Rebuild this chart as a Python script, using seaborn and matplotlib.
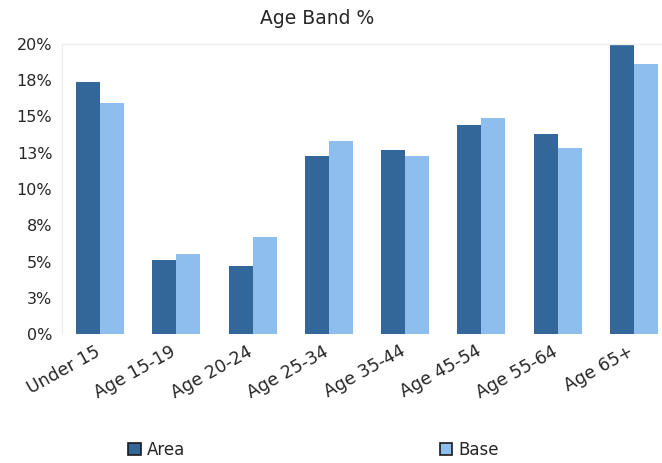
import matplotlib
matplotlib.use("Agg")
import matplotlib.pyplot as plt
import matplotlib.transforms as mtransforms
import seaborn as sns
import pandas as pd
from matplotlib.patches import Patch

# Age bands and percentage shares for the local area versus the base population
categories = ["Under 15", "Age 15-19", "Age 20-24", "Age 25-34",
              "Age 35-44", "Age 45-54", "Age 55-64", "Age 65+"]
area_pct = [17.4, 5.1, 4.7, 12.3, 12.7, 14.4, 13.8, 19.9]
base_pct = [15.9, 5.5, 6.7, 13.3, 12.3, 14.9, 12.8, 18.6]
series_names = ["Area", "Base"]
ytick_values = [0, 2.5, 5, 7.5, 10, 12.5, 15, 17.5, 20]
ytick_labels = ["0%", "3%", "5%", "8%", "10%", "13%", "15%", "18%", "20%"]

df = pd.DataFrame({
    "band": categories * 2,
    "series": [series_names[0]] * len(categories) + [series_names[1]] * len(categories),
    "pct": area_pct + base_pct,
})

colors = {"Area": "#33679A", "Base": "#8DBEEE"}
text_color = "#262626"

sns.set_theme(style="white")
plt.rcParams["font.family"] = ["DejaVu Sans"]

fig = plt.figure(figsize=(6.62, 4.63), dpi=100)
W, H = 662, 463
ax = fig.add_axes([62 / W, 1 - 334 / H, (672 - 62) / W, (334 - 44) / H])

sns.barplot(data=df, x="band", y="pct", hue="series", palette=colors,
            width=0.63, gap=0, saturation=1, legend=False, ax=ax,
            linewidth=0, edgecolor="none")

ax.set_ylim(0, 20)
ax.set_xlim(-0.5, len(categories) - 0.5)
ax.set_yticks(ytick_values)
ax.set_yticklabels(ytick_labels, fontsize=11.5, color=text_color)
ax.set_xticks(range(len(categories)))
ax.set_xticklabels(categories, rotation=29, ha="right", rotation_mode="anchor",
                   fontsize=12.5, color=text_color)
ax.tick_params(axis="y", length=0, pad=7)
ax.tick_params(axis="x", length=0, pad=6)
ax.set_xlabel("")
ax.set_ylabel("")

# nudge the slanted category labels a little to the left
shift = mtransforms.ScaledTranslation(-6 / 100, 0, fig.dpi_scale_trans)
for lbl in ax.get_xticklabels():
    lbl.set_transform(lbl.get_transform() + shift)

for side in ["right", "bottom"]:
    ax.spines[side].set_visible(False)
for side in ["left", "top"]:
    ax.spines[side].set_color("#EEEEEE")
    ax.spines[side].set_linewidth(1)

fig.text(317 / W, 1 - 18 / H, "Age Band %", ha="center", va="center",
         fontsize=13.5, color=text_color)

handles = [Patch(facecolor=colors[s], edgecolor="#1a1a1a", linewidth=1.2, label=s)
           for s in series_names]
fig.legend(handles=handles, loc="center left", bbox_to_anchor=(113 / W, 1 - 450 / H),
           ncol=2, frameon=False, fontsize=12, handlelength=0.75, handleheight=0.75,
           handletextpad=0.4, columnspacing=15.25, labelcolor=text_color)

fig.savefig("out.png", dpi=100)
